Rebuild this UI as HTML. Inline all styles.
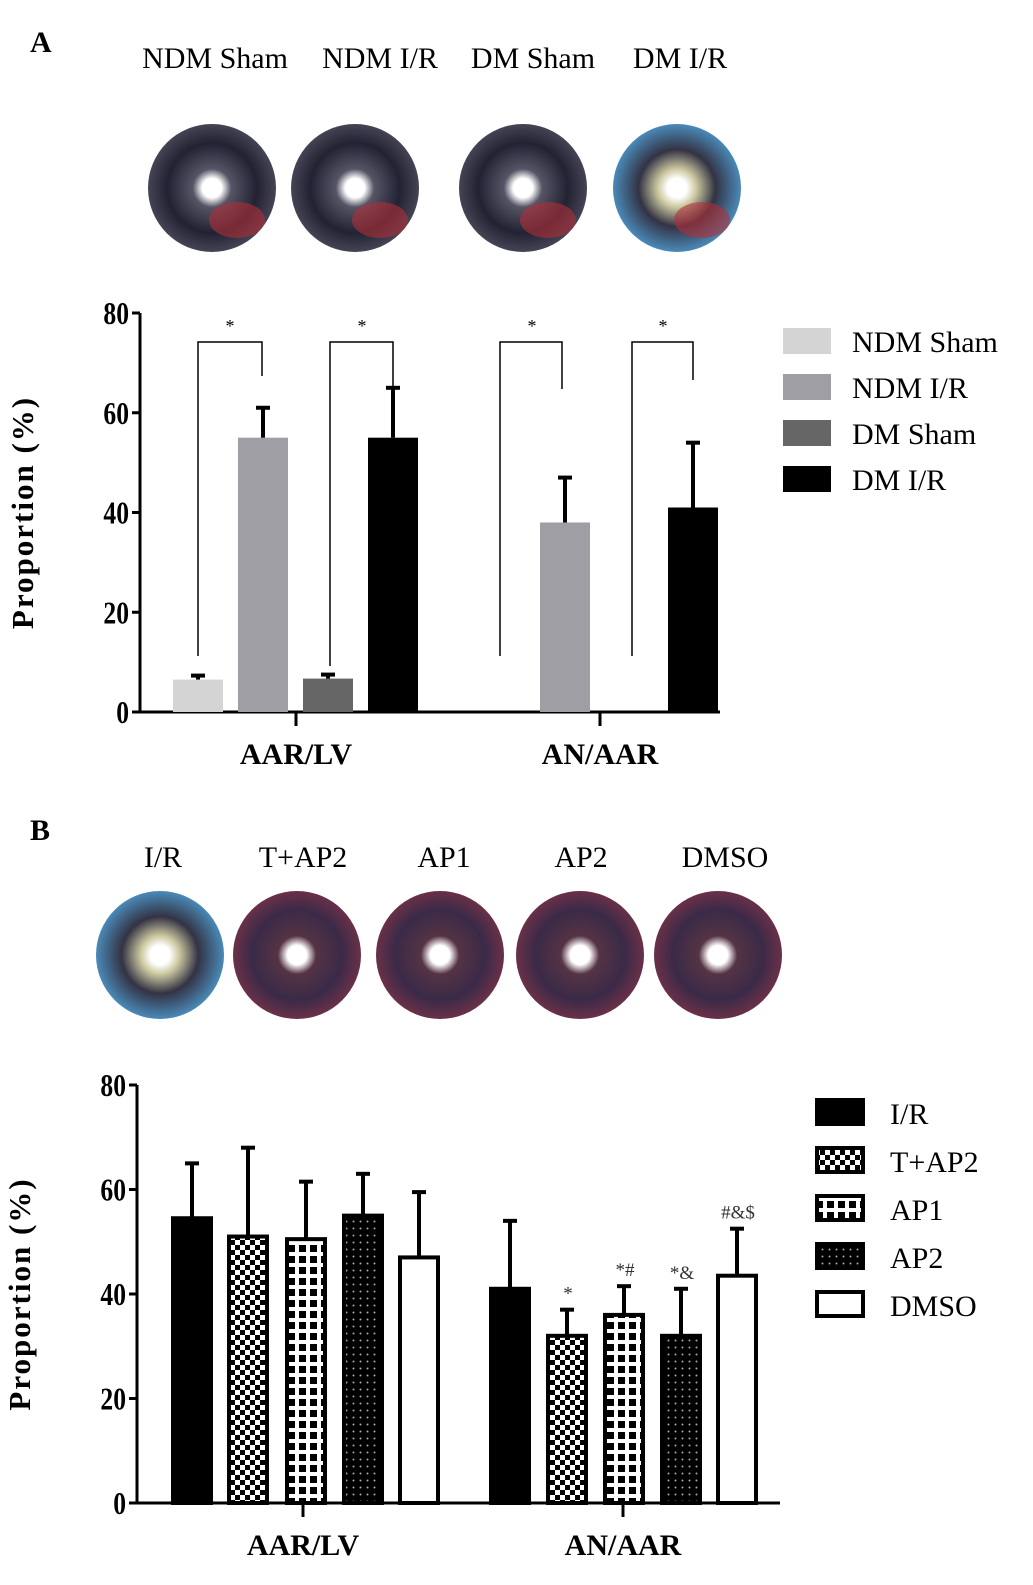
<!DOCTYPE html>
<html><head><meta charset="utf-8"><style>
body{margin:0;background:#fff;width:1033px;height:1580px;overflow:hidden;font-family:"Liberation Serif",serif}
svg text{font-family:"Liberation Serif",serif}
</style></head><body>
<svg id="fig" width="1033" height="1580" viewBox="0 0 1033 1580" xmlns="http://www.w3.org/2000/svg">
<defs>
<pattern id="pChk" width="10" height="10" patternUnits="userSpaceOnUse"><rect width="10" height="10" fill="#fff"/><rect width="5" height="5" fill="#000"/><rect x="5" y="5" width="5" height="5" fill="#000"/></pattern>
<pattern id="pGrid" width="11" height="11" patternUnits="userSpaceOnUse"><rect width="11" height="11" fill="#fff"/><rect x="2" y="2" width="7" height="7" fill="#000"/></pattern>
<pattern id="pDot" width="7" height="7" patternUnits="userSpaceOnUse"><rect width="7" height="7" fill="#000"/><circle cx="3.5" cy="3.5" r="1" fill="#aaa"/></pattern>
<radialGradient id="h1"><stop offset="0.15" stop-color="#fff"/><stop offset="0.3" stop-color="#556"/><stop offset="0.7" stop-color="#223"/><stop offset="1" stop-color="#445"/></radialGradient>
<radialGradient id="h2"><stop offset="0.15" stop-color="#fff"/><stop offset="0.3" stop-color="#ccc8a0"/><stop offset="0.6" stop-color="#334"/><stop offset="1" stop-color="#4a8ab8"/></radialGradient>
<radialGradient id="h3"><stop offset="0.15" stop-color="#fff"/><stop offset="0.3" stop-color="#534"/><stop offset="0.7" stop-color="#3a2a48"/><stop offset="1" stop-color="#6a3048"/></radialGradient>
</defs>
<text x="30" y="52" font-size="30" font-weight="bold">A</text>
<text x="30" y="840" font-size="30" font-weight="bold">B</text>
<g id="heartsA"></g><g id="heartsB"></g>
<g id="chartA"></g><g id="chartB"></g>
</svg>
<script>
const NS="http://www.w3.org/2000/svg";
function mk(p,t,a,txt){const e=document.createElementNS(NS,t);for(const k in a)e.setAttribute(k,a[k]);if(txt!=null)e.textContent=txt;p.appendChild(e);return e;}
const heartLabelsA=["NDM Sham","NDM I/R","DM Sham","DM I/R"];
const heartLabelsB=["I/R","T+AP2","AP1","AP2","DMSO"];
const hA=document.getElementById('heartsA'),hB=document.getElementById('heartsB');
[[212,"url(#h1)"],[355,"url(#h1)"],[523,"url(#h1)"],[677,"url(#h2)"]].forEach((h,i)=>{
 const c=mk(hA,'circle',{cx:h[0],cy:188,r:64,fill:h[1]});
 
 
 mk(hA,'ellipse',{cx:h[0]+25,cy:220,rx:28,ry:18,fill:'#b03038',opacity:0.6});
 const t=mk(hA,'text',{x:[215,380,533,680][i],y:68,'font-size':30,'text-anchor':'middle'},heartLabelsA[i]);
 
 
});
[[160,"url(#h2)"],[297,"url(#h3)"],[440,"url(#h3)"],[580,"url(#h3)"],[718,"url(#h3)"]].forEach((h,i)=>{
 const c=mk(hB,'circle',{cx:h[0],cy:955,r:64,fill:h[1]});
 
 
 const t=mk(hB,'text',{x:[163,303,444,581,725][i],y:867,'font-size':30,'text-anchor':'middle'},heartLabelsB[i]);
 
 
});
const groupsA=["AAR/LV","AN/AAR"];
const seriesA=["NDM Sham","NDM I/R","DM Sham","DM I/R"];
const meanA_AARLV=[6.5,55,6.7,55];
const errA_AARLV=[0.8,6,0.8,10];
const meanA_ANAAR=[null,38,null,41];
const errA_ANAAR=[null,9,null,13];
const yTicksA=[0,20,40,60,80];
const groupsB=["AAR/LV","AN/AAR"];
const seriesB=["I/R","T+AP2","AP1","AP2","DMSO"];
const meanB_AARLV=[54.5,51,50.5,55,47];
const errB_AARLV=[10.5,17,11,8,12.5];
const meanB_ANAAR=[41,32,36,32,43.5];
const errB_ANAAR=[13,5,5.5,9,9];
const annB_ANAAR=["","*","*#","*&","#&$"];
const yTicksB=[0,20,40,60,80];

function axisY(y0,y80){return v=>y0-(y0-y80)*v/80;}
function drawAxes(g,x0,x1,y,ticks,catX,cats,name){
 const ax=mk(g,'line',{x1:x0,y1:y(0),x2:x0,y2:y(80),stroke:'#000','stroke-width':3});
 
 const bx=mk(g,'line',{x1:x0-8,y1:y(0),x2:x1,y2:y(0),stroke:'#000','stroke-width':3});
 
 ticks.forEach(t=>{mk(g,'line',{x1:x0-8,y1:y(t),x2:x0,y2:y(t),stroke:'#000','stroke-width':3});
  const l=mk(g,'text',{x:0,y:0,'font-size':32,'font-weight':'bold','text-anchor':'end','font-family':'Liberation Sans',transform:`translate(${x0-11},${y(t)+11}) scale(0.8,1)`},t);
  });
 cats.forEach((c,i)=>{mk(g,'line',{x1:catX[i],y1:y(0),x2:catX[i],y2:y(0)+14,stroke:'#000','stroke-width':3});
  const l=mk(g,'text',{x:catX[i],y:y(0)+52,'font-size':30,'font-weight':'bold','text-anchor':'middle'},c);
  });
 const yt=mk(g,'text',{x:0,y:0,'font-size':31,'font-weight':'bold','text-anchor':'middle',transform:`translate(${x0-107},${(y(0)+y(80))/2}) rotate(-90)`,'letter-spacing':'2'},'Proportion (%)');
 
}
function bar(g,x,w,y,v,e,fill,stroke,name){
 const r=mk(g,'rect',{x:x,y:y(v),width:w,height:y(0)-y(v),fill:fill,stroke:stroke||'none','stroke-width':stroke?4:0});
 
 mk(g,'line',{x1:x+w/2,y1:y(v),x2:x+w/2,y2:y(v+e),stroke:'#000','stroke-width':4});
 mk(g,'line',{x1:x+w/2-7,y1:y(v+e),x2:x+w/2+7,y2:y(v+e),stroke:'#000','stroke-width':4});
}
(function(){
 const g=document.getElementById('chartA');const y=axisY(712,313);
 drawAxes(g,140,720,y,yTicksA,[296,600],groupsA,'chart-a');
 const fills=['#d4d4d4','#9e9ea4','#666','#000'];
 const xs1=[173,238,303,368],xs2=[475,540,605,668];
 meanA_AARLV.forEach((v,i)=>bar(g,xs1[i],50,y,v,errA_AARLV[i],fills[i],null,'bar-a-aarlv-'+i));
 meanA_ANAAR.forEach((v,i)=>{if(v!=null)bar(g,xs2[i],50,y,v,errA_ANAAR[i],fills[i],null,'bar-a-anaar-'+i);});
 [[198,262,656,376,230],[330,393,666,403,362],[500,562,656,389,532],[632,693,656,380,663]].forEach(b=>{
  const p=mk(g,'path',{d:`M${b[0]},${b[2]}V342H${b[1]}V${b[3]}`,fill:'none',stroke:'#000','stroke-width':1.5});
  
  mk(g,'text',{x:b[4],y:332,'font-size':18,'text-anchor':'middle'},'*');
 });
 const lg=mk(g,'g',{});
 seriesA.forEach((s,i)=>{const yy=328+i*46;
  const r=mk(lg,'rect',{x:783,y:yy,width:48,height:26,fill:fills[i]});
  
  const t=mk(lg,'text',{x:852,y:yy+24,'font-size':30},s);
  });
})();
(function(){
 const g=document.getElementById('chartB');const y=axisY(1503,1085);
 drawAxes(g,137,780,y,yTicksB,[303,623],groupsB,'chart-b');
 const fills=['#000','url(#pChk)','url(#pGrid)','url(#pDot)','#fff'];
 const xs1=[171,227,285,342,398],xs2=[489,546,603,660,716];
 meanB_AARLV.forEach((v,i)=>bar(g,xs1[i]+2,38,y,v,errB_AARLV[i],fills[i],'#000','bar-b-aarlv-'+i));
 meanB_ANAAR.forEach((v,i)=>{bar(g,xs2[i]+2,38,y,v,errB_ANAAR[i],fills[i],'#000','bar-b-anaar-'+i);
  if(annB_ANAAR[i]){const t=mk(g,'text',{x:xs2[i]+22,y:y(meanB_ANAAR[i]+errB_ANAAR[i])-10,'font-size':19,'text-anchor':'middle',fill:'#333'},annB_ANAAR[i]);
   }});
 const lg=mk(g,'g',{});
 seriesB.forEach((s,i)=>{const yy=1100+i*48;
  const r=mk(lg,'rect',{x:817,y:yy,width:46,height:24,fill:fills[i],stroke:'#000','stroke-width':4});
  
  const t=mk(lg,'text',{x:890,y:yy+24,'font-size':30},s);
  });
})();
</script>
</body></html>
